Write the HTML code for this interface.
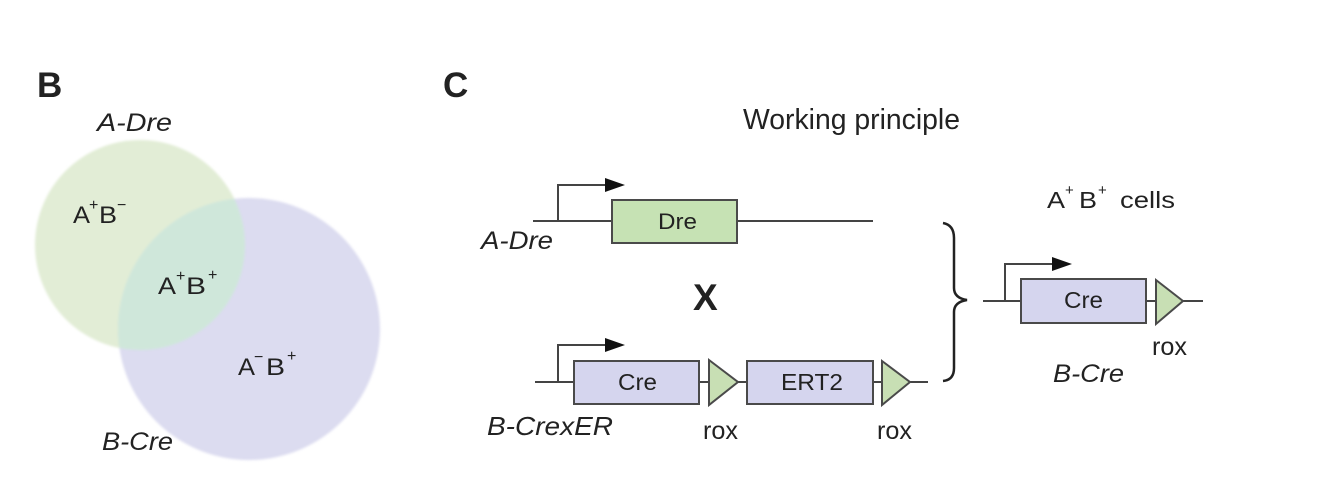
<!DOCTYPE html>
<html><head><meta charset="utf-8"><style>
html,body{margin:0;padding:0;background:#fff;}
svg{display:block;}
text{font-family:"Liberation Sans",Arial,sans-serif;fill:#222;}
</style></head><body>
<svg width="1344" height="488" viewBox="0 0 1344 488" xmlns="http://www.w3.org/2000/svg">
<defs>
<filter id="soft" x="-5%" y="-5%" width="110%" height="110%"><feGaussianBlur stdDeviation="1.2"/></filter>
<clipPath id="pc"><circle cx="249" cy="329" r="131"/></clipPath>
</defs>
<rect width="1344" height="488" fill="#fff"/>

<!-- Panel B -->
<text x="37" y="97" font-size="35" font-weight="bold" fill="#111">B</text>
<text x="97" y="131" font-size="25" font-style="italic" textLength="75" lengthAdjust="spacingAndGlyphs">A-Dre</text>
<g filter="url(#soft)">
<circle cx="140" cy="245" r="105" fill="#e2edd6"/>
<circle cx="249" cy="329" r="131" fill="#dcdcf0"/>
<circle cx="140" cy="245" r="105" fill="#cfe7da" clip-path="url(#pc)"/>
</g>
<!-- A+B- -->
<text x="73" y="223" font-size="24" textLength="17" lengthAdjust="spacingAndGlyphs">A</text>
<text x="89" y="210" font-size="16">+</text>
<text x="99" y="223" font-size="24" textLength="18" lengthAdjust="spacingAndGlyphs">B</text>
<text x="117" y="210" font-size="16">−</text>
<!-- A+B+ -->
<text x="158" y="294" font-size="24" textLength="18" lengthAdjust="spacingAndGlyphs">A</text>
<text x="176" y="281" font-size="16">+</text>
<text x="186" y="294" font-size="24" textLength="20" lengthAdjust="spacingAndGlyphs">B</text>
<text x="208" y="280" font-size="16">+</text>
<!-- A-B+ -->
<text x="238" y="375" font-size="24" textLength="17" lengthAdjust="spacingAndGlyphs">A</text>
<text x="254" y="362" font-size="16">−</text>
<text x="266" y="375" font-size="24" textLength="19" lengthAdjust="spacingAndGlyphs">B</text>
<text x="287" y="361" font-size="16">+</text>
<text x="102" y="450" font-size="25" font-style="italic" textLength="71" lengthAdjust="spacingAndGlyphs">B-Cre</text>

<!-- Panel C -->
<text x="443" y="97" font-size="35" font-weight="bold" fill="#111">C</text>
<text x="743" y="129" font-size="28.5" textLength="217" lengthAdjust="spacingAndGlyphs">Working principle</text>

<g stroke="#444" stroke-width="2" fill="none">
<line x1="533" y1="221" x2="873" y2="221"/>
<polyline points="558,221 558,185 607,185"/>
<line x1="535" y1="382" x2="928" y2="382"/>
<polyline points="558,382 558,345 607,345"/>
<line x1="983" y1="301" x2="1203" y2="301"/>
<polyline points="1005,301 1005,264 1055,264"/>
</g>
<g fill="#111">
<polygon points="605,178 625,185 605,192"/>
<polygon points="605,338 625,345 605,352"/>
<polygon points="1052,257 1072,264 1052,271"/>
</g>

<g stroke="#4a4a4a" stroke-width="2">
<rect x="612" y="200" width="125" height="43" fill="#c6e2b4"/>
<rect x="574" y="361" width="125" height="43" fill="#d5d5ee"/>
<rect x="747" y="361" width="126" height="43" fill="#d5d5ee"/>
<rect x="1021" y="279" width="125" height="44" fill="#d5d5ee"/>
<polygon points="709,360 738,382 709,405" fill="#c8dfb4"/>
<polygon points="882,361 910,382 882,405" fill="#c8dfb4"/>
<polygon points="1156,280 1183,301 1156,324" fill="#c8dfb4"/>
</g>

<text x="658" y="229" font-size="22" fill="#1e2a16" textLength="39" lengthAdjust="spacingAndGlyphs">Dre</text>
<text x="618" y="390" font-size="23" fill="#222236" textLength="39" lengthAdjust="spacingAndGlyphs">Cre</text>
<text x="781" y="390" font-size="23" fill="#222236" textLength="62" lengthAdjust="spacingAndGlyphs">ERT2</text>
<text x="1064" y="308" font-size="23" fill="#222236" textLength="39" lengthAdjust="spacingAndGlyphs">Cre</text>

<text x="481" y="249" font-size="25" font-style="italic" textLength="72" lengthAdjust="spacingAndGlyphs">A-Dre</text>
<text x="487" y="435" font-size="26" font-style="italic" textLength="126" lengthAdjust="spacingAndGlyphs">B-CrexER</text>
<text x="693" y="310" font-size="37" font-weight="bold" fill="#111">X</text>

<text x="703" y="439" font-size="25" textLength="35" lengthAdjust="spacingAndGlyphs">rox</text>
<text x="877" y="439" font-size="25" textLength="35" lengthAdjust="spacingAndGlyphs">rox</text>
<text x="1152" y="355" font-size="25" textLength="35" lengthAdjust="spacingAndGlyphs">rox</text>
<text x="1053" y="382" font-size="25" font-style="italic" textLength="71" lengthAdjust="spacingAndGlyphs">B-Cre</text>

<path d="M943,223 Q954,225 954,238 L954,288 Q954,298 967,300 Q954,302 954,312 L954,368 Q954,380 943,381" stroke="#222" stroke-width="2.5" fill="none"/>

<text x="1047" y="208" font-size="23" textLength="18" lengthAdjust="spacingAndGlyphs">A</text>
<text x="1065" y="195" font-size="15">+</text>
<text x="1079" y="208" font-size="23" textLength="18" lengthAdjust="spacingAndGlyphs">B</text>
<text x="1098" y="195" font-size="15">+</text>
<text x="1120" y="208" font-size="23" textLength="55" lengthAdjust="spacingAndGlyphs">cells</text>
</svg>
</body></html>
